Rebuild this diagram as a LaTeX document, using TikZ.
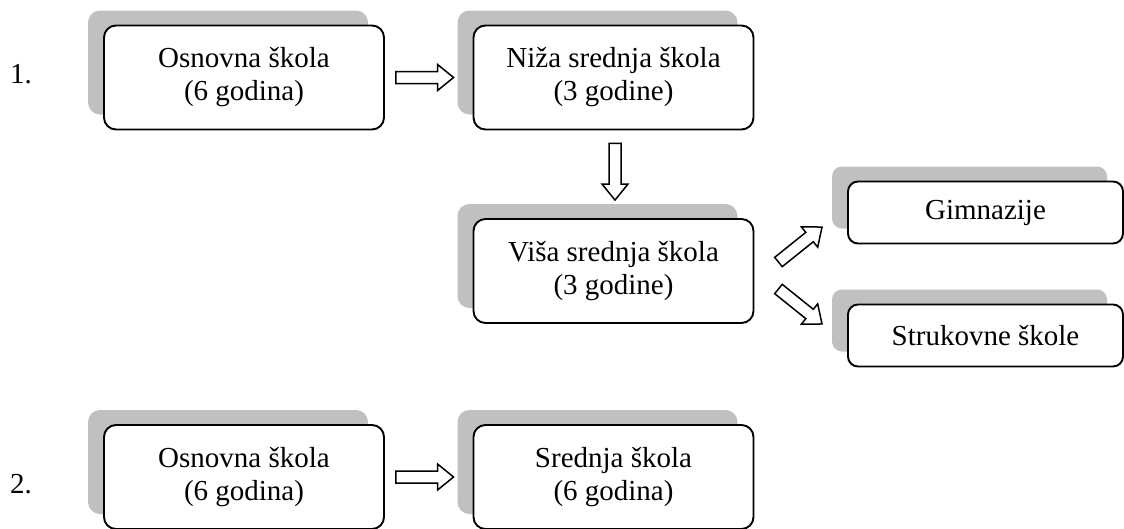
\documentclass[tikz,border=0pt]{standalone}
\usepackage{fontspec}
\setmainfont{Liberation Serif}
\usetikzlibrary{calc,shadows}
\definecolor{shade}{HTML}{C0C0C0}
\newcommand{\blkarrow}[2]{%
  \draw[blockarrow] let \p1=(#1), \p2=(#2), \n1={atan2(\y2-\y1,\x2-\x1)}, \n2={veclen(\x2-\x1,\y2-\y1)} in
   [shift={(\p1)}, rotate=\n1] (0,-6) -- ({\n2-16},-6) -- ({\n2-16},-13) -- (\n2,0) -- ({\n2-16},13) -- ({\n2-16},6) -- (0,6) -- cycle;}
\begin{document}
\begin{tikzpicture}[x=1pt,y=1pt,
  every node/.style={font=\fontsize{29}{33}\selectfont},
  bigbox/.style={draw=black, line width=1.9pt, fill=white, rounded corners=12pt,
    minimum width=280pt, minimum height=104pt, inner sep=0pt, align=center,
    general shadow={fill=shade, shadow xshift=-16pt, shadow yshift=15pt}},
  smallbox/.style={bigbox, minimum width=275pt, minimum height=62pt, rounded corners=10pt},
  numlabel/.style={anchor=base west, inner sep=0pt},
  blockarrow/.style={draw=black, line width=1.5pt, fill=white, line join=miter}]
\useasboundingbox (0,0) rectangle (1124,-528);
\node[numlabel] (l1) at (10,-83) {1.};
\node[numlabel] (l2) at (10,-493) {2.};
\node[bigbox] (o1) at (244,-77.5) {Osnovna škola\\(6 godina)};
\node[bigbox] (n1) at (613.5,-77.5) {Niža srednja škola\\(3 godine)};
\node[bigbox] (v1) at (613.5,-271) {Viša srednja škola\\(3 godine)};
\node[smallbox] (g1) at (985.5,-212.5) {Gimnazije};
\node[smallbox] (s1) at (985.5,-335.5) {Strukovne škole};
\node[bigbox] (o2) at (244,-477) {Osnovna škola\\(6 godina)};
\node[bigbox] (sr2) at (613.5,-477) {Srednja škola\\(6 godina)};
\coordinate (a1s) at ($(o1.east)+(11,0)$);
\coordinate (a1e) at ($(n1.west)+(-19,0)$);
\coordinate (a2s) at ($(n1.south)+(1.5,-13)$);
\coordinate (a2e) at ($(v1.north)+(1.5,18)$);
\coordinate (a3s) at ($(v1.east)+(24,9)$);
\coordinate (a3e) at ($(g1.west)+(-25,-14.5)$);
\coordinate (a4s) at ($(v1.east)+(24,-18)$);
\coordinate (a4e) at ($(s1.west)+(-25,11.5)$);
\coordinate (a5s) at ($(o2.east)+(11,0)$);
\coordinate (a5e) at ($(sr2.west)+(-19,0)$);
\blkarrow{a1s}{a1e}
\blkarrow{a2s}{a2e}
\blkarrow{a3s}{a3e}
\blkarrow{a4s}{a4e}
\blkarrow{a5s}{a5e}
\end{tikzpicture}
\end{document}
